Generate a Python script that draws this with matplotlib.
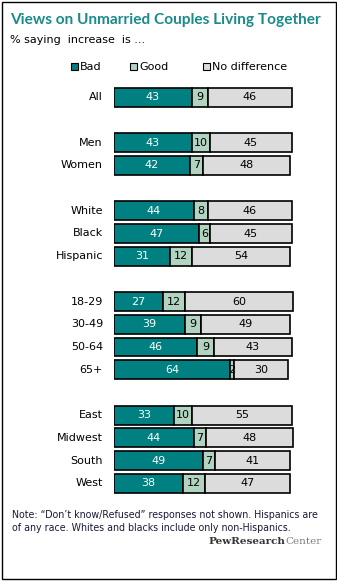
import matplotlib
matplotlib.use("Agg")
import matplotlib.pyplot as plt
from matplotlib.patches import Rectangle

categories = ["All", "", "Men", "Women", "", "White", "Black", "Hispanic", "",
              "18-29", "30-49", "50-64", "65+", "", "East", "Midwest", "South", "West"]
bad = [43, None, 43, 42, None, 44, 47, 31, None, 27, 39, 46, 64, None, 33, 44, 49, 38]
good = [9, None, 10, 7, None, 8, 6, 12, None, 12, 9, 9, 2, None, 10, 7, 7, 12]
nodiff = [46, None, 45, 48, None, 46, 45, 54, None, 60, 49, 43, 30, None, 55, 48, 41, 47]
series_names = ["Bad", "Good", "No difference"]
colors = ["#008080", "#B3D3C1", "#DCDCDC"]
text_colors = ["white", "black", "black"]

W, H = 337, 581
fig = plt.figure(figsize=(W / 100, H / 100), dpi=100)
plt.rcParams['font.family'] = ['DejaVu Sans']

def fx(px):
    return px / W

def fy(py):
    return 1 - py / H

def fit(t, width_px):
    fig.canvas.draw()
    w = t.get_window_extent().width
    t.set_fontsize(t.get_fontsize() * width_px / w)

# axes placement
x0, pxu = 114, 1.812
ytop, ybot = 97.3 - 11.35, 483.3 + 11.35
ax = fig.add_axes([fx(x0), fy(ybot), 100 * pxu / W, (ybot - ytop) / H])
ax.set_xlim(0, 100)
ax.set_ylim(len(categories) - 0.5, -0.5)
ax.axis("off")

bar_h = 0.83
for i, cat in enumerate(categories):
    if bad[i] is None:
        continue
    vals = [bad[i], good[i], nodiff[i]]
    left = 0
    for k, v in enumerate(vals):
        ax.barh(i, v, left=left, height=bar_h, color=colors[k],
                edgecolor="black", linewidth=1.2)
        ax.text(left + v / 2, i, str(v), ha="center", va="center",
                fontsize=8, color=text_colors[k])
        left += v
    fig.text(fx(103), fy(97.3 + i * 22.7), cat, ha="right", va="center",
             fontsize=8, color="black")

# title
tt = fig.text(fx(10), fy(20), "Views on Unmarried Couples Living Together",
              fontsize=10, fontweight="bold", color="#1A8A8A", ha="left",
              va="center", family="Lato")
fit(tt, 312)
fig.text(fx(10), fy(40), "% saying  increase  is ...", fontsize=8,
         color="black", ha="left", va="center")

# legend
leg_x = [71, 130, 203.3]
for k, name in enumerate(series_names):
    fig.patches.append(Rectangle((fx(leg_x[k]), fy(70)), 6.5 / W, 6.5 / H,
                                 transform=fig.transFigure, facecolor=colors[k],
                                 edgecolor="black", linewidth=0.8))
    fig.text(fx(leg_x[k] + 9), fy(66.5), name, fontsize=8, ha="left",
             va="center", color="black")

# notes
n1 = fig.text(fx(12), fy(515), "Note: \u201cDon\u2019t know/Refused\u201d responses not shown. Hispanics are",
              fontsize=7, ha="left", va="center", color="#1a1a3a")
fit(n1, 310)
n2 = fig.text(fx(12), fy(528), "of any race. Whites and blacks include only non-Hispanics.",
              fontsize=n1.get_fontsize(), ha="left", va="center", color="#1a1a3a")
t1 = fig.text(fx(322), fy(542), "Center", fontsize=7.5, ha="right", va="center",
              color="#808080", family="DejaVu Serif")
fig.canvas.draw()
bb = t1.get_window_extent()
fig.text(bb.x0 / W, fy(542), "PewResearch", fontsize=7.5, ha="right", va="center",
         color="#333333", family="DejaVu Serif", fontweight="bold")

# border
fig.patches.append(Rectangle((fx(1.5), fy(579)), (334) / W, (577.5) / H,
                             transform=fig.transFigure, facecolor="none",
                             edgecolor="black", linewidth=1))

fig.savefig("out.png", dpi=100)
